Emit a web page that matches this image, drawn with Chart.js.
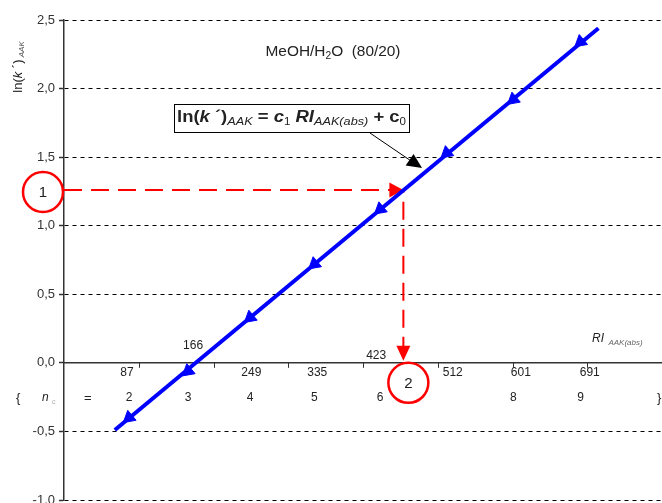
<!DOCTYPE html>
<html lang="en">
<head>
<meta charset="UTF-8">
<title>ln(k') vs RI AAK(abs)</title>
<script src="https://cdn.jsdelivr.net/npm/chart.js"></script>
<style>
  html, body { margin: 0; padding: 0; background: #fff; overflow: hidden; }
  canvas { display: block; }
</style>
</head>
<body>
<canvas id="chart" width="662" height="503"></canvas>
<script>
// alkyl aryl ketones in MeOH/H2O (80/20): retention index vs ln(k')
const riValues = [87, 166, 249, 335, 423, 512, 601, 691];
const lnkValues = [-0.40, -0.06, 0.33, 0.72, 1.12, 1.53, 1.92, 2.34];
const ncLabels = ['2', '3', '4', '5', '6', '', '8', '9'];
// ends of the regression line
const fitX = [68, 715];
const fitY = [-0.49, 2.44];
const yTicks = [-1.0, -0.5, 0.0, 0.5, 1.0, 1.5, 2.0, 2.5];
const xTicks = [100, 200, 300, 400, 500, 600, 700];
// read-off: level 1 on ln(k') axis gives point 2 on RI axis
const readLnk = 1.26;
const readRi = 454;

const FONT = 'Liberation Sans, Arial, sans-serif';
const BLUE = '#0000ff';
const RED = '#ff0000';

function richText(ctx, parts, x, y, align, fitWidth) {
  let w = 0;
  parts.forEach(p => { ctx.font = p[1]; w += ctx.measureText(p[0]).width; });
  const k = fitWidth ? fitWidth / w : 1;
  ctx.save();
  ctx.translate(align === 'center' ? x - w * k / 2 : x, y);
  ctx.scale(k, 1);
  let cx = 0;
  parts.forEach(p => {
    ctx.font = p[1];
    ctx.fillStyle = p[3] || '#222';
    ctx.fillText(p[0], cx, p[2] || 0);
    cx += ctx.measureText(p[0]).width;
  });
  ctx.restore();
}

function triangle(ctx, x, y, dx, dy, len, half) {
  // arrowhead with tip at (x,y) pointing along (dx,dy)
  const n = Math.hypot(dx, dy); dx /= n; dy /= n;
  const bx = x - dx * len, by = y - dy * len;
  ctx.beginPath();
  ctx.moveTo(x, y);
  ctx.lineTo(bx - dy * half, by + dx * half);
  ctx.lineTo(bx + dy * half, by - dx * half);
  ctx.closePath();
  ctx.fill();
}

const decorations = {
  id: 'decorations',
  beforeDatasetsDraw(chart) {
    const { ctx, chartArea, scales: { x, y } } = chart;
    const y0 = y.getPixelForValue(0);
    ctx.save();
    ctx.strokeStyle = '#333';
    ctx.lineWidth = 1.5;
    ctx.beginPath();
    ctx.moveTo(chartArea.left, y0);
    ctx.lineTo(chartArea.right, y0);
    ctx.stroke();
    ctx.lineWidth = 1;
    xTicks.forEach(t => {
      const px = Math.round(x.getPixelForValue(t)) + 0.5;
      ctx.beginPath();
      ctx.moveTo(px, y0);
      ctx.lineTo(px, y0 + 5);
      ctx.stroke();
    });
    ctx.restore();
  },
  afterDatasetDraw(chart, args) {
    if (args.index !== 2) return;
    const { ctx, scales: { x, y } } = chart;
    const gx = x.getPixelForValue(readRi);
    const gy = y.getPixelForValue(readLnk);
    const y0 = y.getPixelForValue(0);
    ctx.save();
    ctx.fillStyle = RED;
    triangle(ctx, gx, gy, 1, 0, 14, 7.5);
    triangle(ctx, gx, y0 - 2, 0, 1, 15, 7);
    ctx.restore();
  },
  afterDraw(chart) {
    const { ctx, chartArea, scales: { x, y } } = chart;
    const y0 = y.getPixelForValue(0);
    ctx.save();
    ctx.textBaseline = 'middle';
    ctx.textAlign = 'left';

    // y axis title
    ctx.save();
    ctx.translate(18, 67);
    ctx.rotate(-Math.PI / 2);
    richText(ctx, [
      ['ln(', '13px ' + FONT, 0],
      ['k', 'italic 13px ' + FONT, 0],
      [' \u00b4)', '13px ' + FONT, 0],
      [' AAK', 'italic 8px ' + FONT, 4, '#555']
    ], 0, 0, 'center');
    ctx.restore();

    // series title
    richText(ctx, [
      ['MeOH/H', '15px ' + FONT, 0],
      ['2', '10px ' + FONT, 4],
      ['O  (80/20)', '15px ' + FONT, 0]
    ], 333, 52, 'center', 135);

    // equation box
    ctx.fillStyle = '#fff';
    ctx.fillRect(174, 104, 235, 28);
    ctx.strokeStyle = '#000';
    ctx.lineWidth = 1;
    ctx.strokeRect(174.5, 104.5, 235, 28);
    richText(ctx, [
      ['ln(', 'bold 16px ' + FONT, 0],
      ['k', 'bold italic 16px ' + FONT, 0],
      [' \u00b4)', 'bold 16px ' + FONT, 0],
      ['AAK', 'italic 11px ' + FONT, 4],
      [' = ', 'bold 16px ' + FONT, 0],
      ['c', 'bold italic 16px ' + FONT, 0],
      ['1', '10px ' + FONT, 4],
      [' RI', 'bold italic 16px ' + FONT, 0],
      ['AAK(abs)', 'italic 11px ' + FONT, 4],
      [' + ', 'bold 16px ' + FONT, 0],
      ['c', 'bold 16px ' + FONT, 0],
      ['0', '10px ' + FONT, 4]
    ], 177, 118, 'left', 229);

    // pointer from the equation to the line
    const ax1 = 370, ay1 = 133;
    const ax2 = x.getPixelForValue(479), ay2 = y.getPixelForValue(1.42);
    ctx.strokeStyle = '#000';
    ctx.lineWidth = 1;
    ctx.beginPath();
    ctx.moveTo(ax1, ay1);
    ctx.lineTo(ax2 - 10, ay2 - 6.5);
    ctx.stroke();
    ctx.fillStyle = '#000';
    triangle(ctx, ax2, ay2, ax2 - ax1, ay2 - ay1, 15, 7);

    // RI axis label
    richText(ctx, [
      ['RI', 'italic 12px ' + FONT, 0],
      ['  AAK(abs)', 'italic 8px ' + FONT, 4, '#666']
    ], 592, 339, 'left');

    // RI values and carbon numbers
    ctx.textAlign = 'center';
    ctx.font = '12px ' + FONT;
    ctx.fillStyle = '#222';
    riValues.forEach((ri, i) => {
      const px = x.getPixelForValue(ri);
      let lx = px + i * 1.6 - 2;
      let ly = y0 + 10;
      if (i === 1) { ly = y0 - 17; lx = px + 5; }
      if (i === 4) { ly = y0 - 7; lx = px - 4; }
      ctx.fillText(String(ri), lx, ly);
      ctx.fillText(ncLabels[i], px, 398);
    });
    ctx.textAlign = 'left';
    ctx.font = '13px ' + FONT;
    ctx.fillText('{', 16, 398);
    ctx.fillText('=', 84, 398);
    ctx.fillText('}', 657, 398);
    ctx.font = 'italic 12px ' + FONT;
    ctx.fillText('n', 42, 398);
    ctx.font = '7px ' + FONT;
    ctx.fillStyle = '#aaa';
    ctx.fillText('c', 52, 402);

    // numbered circles
    ctx.strokeStyle = RED;
    ctx.lineWidth = 2.5;
    const circles = [
      [chartArea.left - 21, y.getPixelForValue(readLnk) + 2, '1'],
      [x.getPixelForValue(readRi) + 5, y0 + 20, '2']
    ];
    ctx.textAlign = 'center';
    circles.forEach(c => {
      ctx.fillStyle = '#fff';
      ctx.beginPath();
      ctx.arc(c[0], c[1], 20, 0, Math.PI * 2);
      ctx.fill();
      ctx.stroke();
      ctx.fillStyle = '#222';
      ctx.font = '15px ' + FONT;
      ctx.fillText(c[2], c[0], c[1] + 1);
    });
    ctx.restore();
  }
};

new Chart(document.getElementById('chart'), {
  type: 'scatter',
  data: {
    datasets: [
      {
        label: 'ln(k\') AAK',
        data: riValues.map((v, i) => ({ x: v, y: lnkValues[i] })),
        pointStyle: 'triangle',
        rotation: 230,
        pointRadius: 7.5,
        backgroundColor: BLUE,
        borderColor: BLUE,
        borderWidth: 1
      },
      {
        type: 'line',
        label: 'fit',
        data: fitX.map((v, i) => ({ x: v, y: fitY[i] })),
        borderColor: BLUE,
        borderWidth: 4,
        pointRadius: 0,
        fill: false
      },
      {
        type: 'line',
        label: 'read-off',
        data: [
          { x: 0, y: readLnk },
          { x: readRi, y: readLnk },
          { x: readRi, y: 0.1 }
        ],
        borderColor: RED,
        borderWidth: 2,
        borderDash: [18, 9],
        pointRadius: 0,
        fill: false,
        tension: 0
      }
    ]
  },
  options: {
    responsive: false,
    animation: false,
    layout: { autoPadding: false, padding: { top: 20, bottom: 3, left: 0, right: 0 } },
    plugins: { legend: { display: false }, tooltip: { enabled: false } },
    scales: {
      x: { type: 'linear', min: 0, max: 800, display: false },
      y: {
        type: 'linear',
        min: -1,
        max: 2.5,
        afterBuildTicks: s => { s.ticks = yTicks.map(v => ({ value: v })); },
        afterFit: s => { s.width = 64; s.paddingTop = 0; s.paddingBottom = 0; },
        grid: { color: '#000', lineWidth: 1, tickLength: 5, tickColor: '#333', tickWidth: 1.5 },
        border: { color: '#333', width: 1.5, dash: [4, 4] },
        ticks: {
          color: '#333',
          padding: 4,
          font: { family: FONT, size: 13 },
          callback: v => Number(v).toFixed(1).replace('.', ',')
        }
      }
    }
  },
  plugins: [decorations]
});
</script>
</body>
</html>
